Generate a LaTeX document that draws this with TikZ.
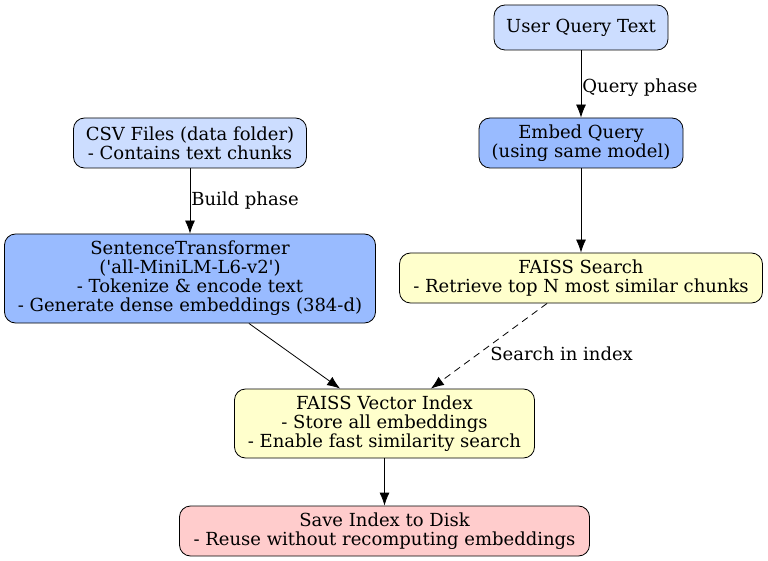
\documentclass[tikz,border=0pt]{standalone}
\usepackage{fontspec}
\setmainfont{DejaVu Serif}[Ligatures=TeXOff]
\usetikzlibrary{arrows.meta}
\definecolor{inblue}{HTML}{CCDDFF}
\definecolor{modblue}{HTML}{99BBFF}
\definecolor{idxyellow}{HTML}{FFFFCC}
\definecolor{diskred}{HTML}{FFCCCC}
\begin{document}
\begin{tikzpicture}[
    x=1pt, y=-1pt,
    % Styles
    stage/.style={% For every box
        rectangle,
        rounded corners=11pt,
        draw,
        line width=0.8pt,
        align=center,
        inner sep=2pt,
        font=\fontsize{18}{19}\selectfont,
        },
    flow/.style={% For the arrows
        -{Latex[length=13pt, width=10pt]},
        line width=0.8pt,
        },
    tag/.style={% For the arrow labels
        font=\fontsize{18}{19}\selectfont,
        anchor=west,
        inner sep=1pt,
        },
    ]
    \useasboundingbox (0,0) rectangle (768,561);

    % Build side
    \node [stage, fill=inblue, minimum width=233pt, minimum height=50pt] (csv) at (190,143)
        {CSV Files (data folder)\\- Contains text chunks};
    \node [stage, fill=modblue, minimum width=371pt, minimum height=89pt] (model) at (190,278.5)
        {SentenceTransformer\\('all-MiniLM-L6-v2')\\- Tokenize \& encode text\\- Generate dense embeddings (384-d)};

    % Query side
    \node [stage, fill=inblue, minimum width=174pt, minimum height=45pt] (query) at (581,27.5)
        {User Query Text};
    \node [stage, fill=modblue, minimum width=204pt, minimum height=50pt] (embed) at (581,143)
        {Embed Query\\(using same model)};
    \node [stage, fill=idxyellow, minimum width=363pt, minimum height=50pt] (search) at (581,278)
        {FAISS Search\\- Retrieve top N most similar chunks};

    % Index and disk
    \node [stage, fill=idxyellow, minimum width=300pt, minimum height=69pt] (index) at (384.5,423.5)
        {FAISS Vector Index\\- Store all embeddings\\- Enable fast similarity search};
    \node [stage, fill=diskred, minimum width=410pt, minimum height=50pt] (disk) at (384.5,531)
        {Save Index to Disk\\- Reuse without recomputing embeddings};

    % Edge end points off the box centres
    \coordinate (mfoot) at ([xshift=-127pt]model.south east);
    \coordinate (sfoot) at ([xshift=148pt]search.south west);
    \coordinate (ihead1) at ([xshift=106pt]index.north west);
    \coordinate (ihead2) at ([xshift=-104pt]index.north east);

    % Arrows
    \draw [flow] (csv) -- node [tag, pos=0.5] {Build phase} (model);
    \draw [flow] (query) -- node [tag, pos=0.55] {Query phase} (embed);
    \draw [flow] (embed) -- (search);
    \draw [flow] (mfoot) -- (ihead1);
    \draw [flow, dashed, dash pattern=on 7pt off 5pt] (sfoot) -- node [tag, pos=0.5, yshift=-8pt] {Search in index} (ihead2);
    \draw [flow] (index) -- (disk);
\end{tikzpicture}
\end{document}
